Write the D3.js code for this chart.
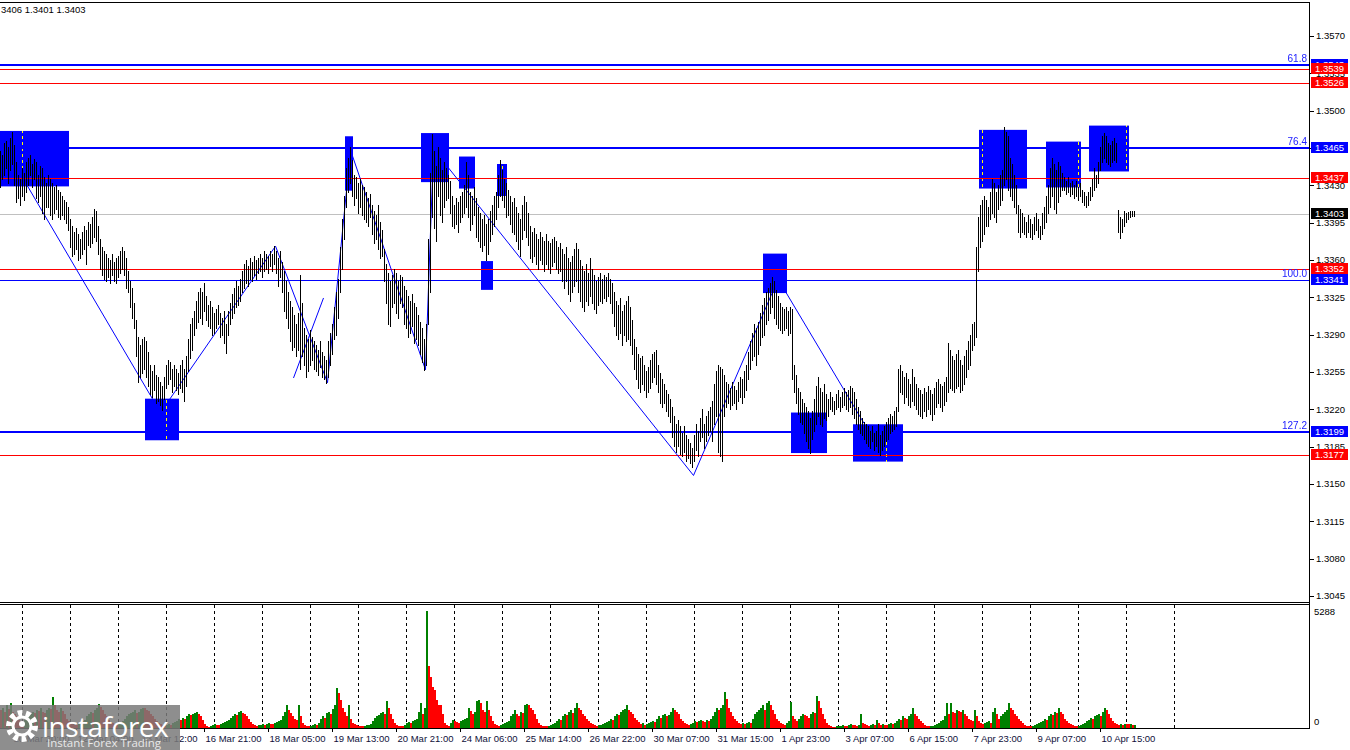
<!DOCTYPE html>
<html><head><meta charset="utf-8">
<script src="https://cdn.jsdelivr.net/npm/d3@7"></script>
<style>html,body{margin:0;padding:0;background:#fff;overflow:hidden}</style>
</head><body>
<svg id="c" width="1350" height="750"></svg>
<script>
// ---------- DATA (H1 bars, prices in pips above 1.3000) ----------
const highPips = [
462,458,470,472,466,474,480,468,452,440,436,446,442,452,456,458,450,455,452,440,448,446,438,432,
440,436,432,428,430,426,424,420,416,414,410,398,392,386,390,384,380,386,392,388,396,394,400,408,
406,392,380,372,368,366,362,360,366,358,362,364,368,372,368,362,350,340,334,320,304,288,280,286,
288,284,274,262,256,262,252,250,246,242,250,262,266,264,258,262,258,254,262,266,258,270,286,300,
306,312,322,330,334,330,338,326,318,322,316,310,314,318,310,306,312,300,312,320,328,334,340,336,
342,350,356,360,354,362,358,364,360,362,366,362,368,366,364,368,366,373,368,362,368,358,350,340,
330,322,316,308,300,310,346,320,296,290,286,294,288,284,280,276,284,274,270,266,284,292,300,316,
330,342,372,398,420,446,456,466,454,440,438,432,436,430,428,424,418,422,412,406,402,412,396,388,
370,356,348,340,346,352,348,340,346,344,336,332,326,322,328,320,316,308,302,296,286,300,380,442,
478,462,448,466,456,444,452,446,440,434,420,412,418,414,420,424,430,452,440,424,420,428,418,410,
404,398,402,394,398,406,412,420,424,440,454,444,436,432,426,420,414,418,410,404,398,412,420,414,
404,392,386,390,384,380,386,382,378,384,378,376,380,382,378,372,376,370,366,372,362,358,364,370,
376,370,360,354,350,356,348,362,352,346,340,344,348,342,346,344,348,342,338,330,322,318,324,312,
318,322,326,316,304,286,278,272,268,270,262,256,260,266,272,274,276,262,254,248,244,238,234,230,
222,214,206,210,204,198,204,196,192,188,184,196,206,200,212,220,206,214,218,222,228,244,256,262,
260,258,252,246,244,240,246,242,238,246,250,248,256,262,274,284,292,300,296,302,310,318,324,330,
334,338,344,340,332,326,320,316,314,316,312,316,314,262,252,240,236,230,226,222,218,212,218,230,
242,250,240,236,244,234,230,236,232,228,234,238,232,236,240,236,238,242,240,236,230,222,218,212,
208,206,204,200,204,198,200,206,196,200,204,208,212,216,214,218,222,258,262,256,250,254,248,244,
258,250,244,240,238,234,240,236,242,238,234,240,246,248,244,242,246,250,282,276,270,266,272,276,
266,262,270,276,284,290,300,302,372,400,412,416,420,416,410,424,436,432,424,430,440,444,485,480,
476,456,450,440,430,412,408,404,400,396,402,398,394,400,404,398,392,404,410,420,430,446,456,450,
444,452,448,442,438,434,438,432,434,430,434,428,432,426,424,420,424,428,436,446,440,452,466,476,
479,476,470,468,472,474,470,407,400,398,406,404,405,406,406,406];
const lowPips = [
428,436,440,446,432,444,450,430,414,418,412,420,416,424,430,440,428,436,418,414,420,404,398,410,
410,402,398,404,408,400,398,402,398,395,388,372,364,366,370,360,362,366,370,356,374,372,376,382,
378,366,352,346,342,340,344,338,346,340,338,344,348,352,346,334,330,316,306,296,270,246,250,254,
258,250,242,234,232,238,226,228,224,219,230,240,244,248,236,242,238,234,240,236,228,242,256,268,
276,290,296,302,306,300,312,304,298,296,290,292,296,300,288,290,282,273,290,300,306,310,316,318,
322,330,334,338,336,342,340,346,342,348,350,344,350,352,348,354,350,356,348,336,344,330,312,306,
296,284,276,278,270,276,258,270,262,250,256,262,266,258,256,252,260,250,248,245,250,262,272,286,
290,306,330,352,380,410,424,432,420,412,418,404,410,402,398,396,392,400,384,376,380,370,362,364,
340,320,300,298,316,320,310,306,320,316,300,296,288,292,298,282,286,280,272,264,257,262,300,330,
400,390,378,420,402,396,410,416,418,404,392,390,394,386,396,400,404,410,400,388,394,402,382,378,
372,368,374,360,366,378,384,392,398,410,420,416,410,400,402,394,386,384,378,370,364,380,388,382,
374,362,358,364,356,352,360,356,350,356,352,348,354,358,352,348,350,340,334,340,328,322,330,336,
340,330,322,316,312,322,318,326,320,314,310,318,322,320,324,322,326,320,310,298,290,286,292,280,
290,284,286,280,272,258,248,240,236,244,238,232,236,240,246,250,244,236,226,222,226,218,214,208,
194,186,180,186,178,176,180,172,174,170,166,172,182,176,190,194,184,190,196,200,190,206,214,180,
176,172,214,222,226,220,224,226,220,228,232,226,232,238,248,258,266,270,262,272,280,288,290,300,
304,310,316,306,300,296,294,292,294,296,290,292,248,236,226,216,208,206,198,190,184,179,192,200,
206,214,206,204,212,210,214,220,218,216,220,222,218,222,224,220,218,222,216,212,206,202,198,196,
192,188,186,184,190,182,186,180,177,182,186,190,192,198,200,202,204,218,236,234,226,232,224,222,
228,224,220,216,214,212,218,214,220,216,210,216,222,226,222,218,224,228,236,240,238,236,240,242,
236,238,244,250,258,262,276,280,288,350,372,378,384,392,392,398,404,400,396,408,412,416,430,436,
426,420,416,410,404,386,382,386,384,382,386,382,380,384,388,382,380,384,390,396,404,410,420,408,
404,414,420,426,426,422,424,420,422,418,420,416,420,414,412,410,412,416,420,426,428,432,444,452,
456,452,450,448,452,454,452,386,381,386,392,396,398,400,401,401];
const volumes = [
800,900,700,1000,850,1100,700,600,500,350,300,250,350,400,500,600,700,650,800,750,900,700,650,800,
900,850,1400,1000,800,700,900,750,600,400,300,200,150,120,100,150,200,300,350,500,600,700,650,800,
900,1050,950,800,600,500,350,250,200,150,120,150,200,300,400,500,600,650,700,800,650,700,850,900,
900,800,750,600,500,400,300,200,150,100,80,100,150,120,200,250,300,400,350,450,400,500,600,550,
600,650,700,600,500,350,150,50,40,60,100,150,120,100,150,200,250,300,350,450,500,600,550,700,
750,650,600,500,400,250,150,100,80,100,120,150,100,150,200,180,150,200,250,300,350,500,700,1000,
800,650,500,400,350,1000,500,200,100,80,50,80,100,150,120,200,400,500,450,650,700,600,850,1000,
1800,1560,1250,900,700,500,1000,400,200,150,100,80,60,50,80,100,120,150,300,450,500,550,650,700,
600,1200,900,600,400,200,100,80,60,50,100,200,250,200,300,350,400,700,1100,600,900,5288,2800,2300,
1850,1700,1250,1030,1000,600,200,100,50,200,350,300,250,200,300,350,400,450,900,750,600,700,1200,1270,
1100,800,700,1200,800,500,300,150,100,80,100,150,200,250,300,500,600,800,600,500,700,650,1000,1050,
1000,900,800,600,400,200,120,80,60,50,80,100,150,200,300,400,350,500,600,550,700,800,650,900,
1100,900,800,600,500,400,300,200,150,100,80,100,120,150,200,250,300,400,350,500,600,550,700,800,
850,1000,800,700,600,450,350,250,150,200,100,150,200,250,300,250,400,500,450,550,600,500,550,700,
900,800,700,600,400,300,200,150,100,150,200,300,250,300,350,300,250,350,300,400,500,700,900,800,
900,1000,1600,1300,900,700,500,400,300,200,150,200,150,200,250,200,400,600,700,800,900,1000,800,1100,
1200,1000,800,600,400,300,200,150,100,200,300,1150,500,400,300,400,500,600,550,500,450,600,700,650,
1450,1200,900,600,400,200,100,50,40,30,50,60,80,100,80,60,100,150,120,100,80,100,600,200,
150,100,80,100,150,120,350,200,100,150,120,100,150,200,150,200,300,400,350,500,450,400,500,600,
900,600,500,400,300,200,100,80,50,60,80,100,150,200,300,350,500,1100,600,1100,700,650,800,750,
700,800,600,500,400,350,300,800,500,300,200,150,200,250,300,200,700,900,600,400,500,600,700,800,
1100,900,800,600,500,400,300,200,100,80,60,50,80,100,150,200,250,300,400,350,500,600,550,700,
650,900,700,600,400,300,200,150,100,80,60,80,100,150,200,300,350,450,400,500,550,600,500,700,
900,800,600,450,300,200,150,100,150,120,180,150,140,160,100,120];
const volumeMax = 5288;

const dateLabels = ["10 Mar 20:00","12 Mar 04:00","13 Mar 12:00","16 Mar 21:00","18 Mar 05:00","19 Mar 13:00",
  "20 Mar 21:00","24 Mar 06:00","25 Mar 14:00","26 Mar 22:00","30 Mar 07:00","31 Mar 15:00","1 Apr 23:00",
  "3 Apr 07:00","6 Apr 15:00","7 Apr 23:00","9 Apr 07:00","10 Apr 15:00"];
const dateLabelBars = [6,38,70,102,134,166,198,230,262,294,326,358,390,422,454,486,518,550];
const gridBars = [11,35,59,83,107,131,155,179,203,227,251,275,299,323,347,371,395,419,443,467,491,515,539,563,587];
const priceTicks = [1.3045,1.3080,1.3115,1.3150,1.3185,1.3220,1.3255,1.3290,1.3325,1.3360,1.3395,1.3430,1.3465,1.3500,1.3535,1.3570];

const fiboPrices = [1.3543, 1.3465, 1.3341, 1.3199];
const fiboNames  = ["61.8", "76.4", "100.0", "127.2"];
const redPrices  = [1.3539, 1.3526, 1.3437, 1.3352, 1.3177];
const bidPrice = 1.3403;

const zoneStart = [-5, 72.5, 172.5, 210.5, 229.5, 240.5, 248.5, 381.5, 395.5, 426.5, 489.5, 523, 544.5];
const zoneEnd   = [34.5, 89.5, 176.5, 224.5, 237.5, 246.5, 253.5, 393.5, 413.5, 451.5, 513.5, 540.5, 564.5];
const zoneHigh  = [1.3481,1.3230,1.3476,1.3479,1.3457,1.3359,1.3450,1.3366,1.3217,1.3206,1.3482,1.3471,1.3486];
const zoneLow   = [1.3429,1.3191,1.3425,1.3433,1.3427,1.3332,1.3420,1.3329,1.3179,1.3171,1.3427,1.3428,1.3443];

const zigzagBars   = [-3, 80, 137.5, 163.5, 175, 212.5, 216.5, 346.5, 388.8, 431.7];
const zigzagPrices = [1.3482,1.3217,1.3373,1.3245,1.3463,1.3257,1.3464,1.3158,1.3342,1.3207];
const trendBars   = [146.5, 161.5];
const trendPrices = [1.32494, 1.33244];

const headerText = "3406 1.3401 1.3403";

// ---------- DRAWING ----------
const svg = d3.select('#c');
const FONT = "'Liberation Sans', Arial, sans-serif";
const RIGHT = 1309.5;
const x = d3.scaleLinear().domain([0, 567]).range([0.5, 1134.5]);
const y = d3.scaleLinear().domain([1.3045, 1.3570]).range([596, 36]);
const yv = d3.scaleLinear().domain([0, volumeMax]).range([727.5, 611]);
const price = p => 1.3 + p / 10000;
const crisp = v => Math.round(v) + 0.5;

svg.append('rect').attr('width', 1350).attr('height', 750).attr('fill', '#fff');

const defs = svg.append('defs');
defs.append('clipPath').attr('id', 'mainClip').append('rect')
  .attr('x', 0).attr('y', 3).attr('width', 1309).attr('height', 599);

const main = svg.append('g').attr('clip-path', 'url(#mainClip)');

// zones
main.append('g').selectAll('rect').data(zoneStart).join('rect')
  .attr('x', (d, i) => x(d) - 0.5)
  .attr('width', (d, i) => x(zoneEnd[i]) - x(d))
  .attr('y', (d, i) => y(zoneHigh[i]))
  .attr('height', (d, i) => y(zoneLow[i]) - y(zoneHigh[i]))
  .attr('fill', '#0000ff');

// vertical grid (XOR-like look over blue zones)
main.append('g').style('mix-blend-mode', 'difference').selectAll('line').data(gridBars).join('line')
  .attr('x1', d => x(d)).attr('x2', d => x(d)).attr('y1', 4).attr('y2', 602)
  .attr('stroke', '#fff').attr('stroke-dasharray', '3,3').attr('shape-rendering', 'crispEdges');

// horizontal levels
main.append('line').attr('x1', 0).attr('x2', RIGHT).attr('y1', crisp(y(bidPrice))).attr('y2', crisp(y(bidPrice)))
  .attr('stroke', '#c0c0c0').attr('shape-rendering', 'crispEdges');
main.append('g').selectAll('line').data(redPrices).join('line')
  .attr('x1', 0).attr('x2', RIGHT).attr('y1', d => crisp(y(d))).attr('y2', d => crisp(y(d)))
  .attr('stroke', '#ff0000').attr('shape-rendering', 'crispEdges');
main.append('g').selectAll('line').data(fiboPrices).join('line')
  .attr('x1', 0).attr('x2', RIGHT)
  .attr('y1', (d, i) => i === 2 ? crisp(y(d)) : Math.round(y(d)))
  .attr('y2', (d, i) => i === 2 ? crisp(y(d)) : Math.round(y(d)))
  .attr('stroke', '#0000ff').attr('stroke-width', (d, i) => i === 2 ? 1 : 2.5)
  .attr('shape-rendering', 'crispEdges');
main.append('g').selectAll('text').data(fiboPrices).join('text')
  .attr('x', 1307).attr('y', d => y(d) - 3).attr('text-anchor', 'end')
  .attr('font-family', FONT).attr('font-size', 10).attr('fill', '#2020ff')
  .text((d, i) => fiboNames[i]);

// zigzag & trend
const zz = zigzagBars.map((b, i) => [x(b), y(zigzagPrices[i])]);
main.append('path').attr('d', d3.line()(zz)).attr('fill', 'none').attr('stroke', '#0000ff').attr('stroke-width', 1);
main.append('path').attr('d', d3.line()(trendBars.map((b, i) => [x(b), y(trendPrices[i])])))
  .attr('fill', 'none').attr('stroke', '#0000ff').attr('stroke-width', 1);

// bars
main.append('g').selectAll('line').data(highPips).join('line')
  .attr('x1', (d, i) => x(i)).attr('x2', (d, i) => x(i))
  .attr('y1', d => Math.round(y(price(d))))
  .attr('y2', (d, i) => Math.round(y(price(lowPips[i]))) + 1)
  .attr('stroke', '#000').attr('stroke-width', 1).attr('shape-rendering', 'crispEdges');

// frames
const frame = svg.append('g').attr('stroke', '#000').attr('shape-rendering', 'crispEdges');
frame.append('line').attr('x1', 0).attr('x2', RIGHT).attr('y1', 2.5).attr('y2', 2.5);
frame.append('line').attr('x1', 0).attr('x2', RIGHT).attr('y1', 602.5).attr('y2', 602.5);
frame.append('line').attr('x1', 0).attr('x2', RIGHT).attr('y1', 604.5).attr('y2', 604.5);
frame.append('line').attr('x1', 0).attr('x2', RIGHT).attr('y1', 728.5).attr('y2', 728.5);
frame.append('line').attr('x1', RIGHT).attr('x2', RIGHT).attr('y1', 2.5).attr('y2', 728.5);

// price axis ticks
const ax = svg.append('g');
ax.selectAll('line').data(priceTicks).join('line')
  .attr('x1', RIGHT).attr('x2', RIGHT + 4).attr('y1', d => crisp(y(d))).attr('y2', d => crisp(y(d)))
  .attr('stroke', '#000').attr('shape-rendering', 'crispEdges');
ax.selectAll('text').data(priceTicks).join('text')
  .attr('x', 1316).attr('y', d => y(d)).attr('dy', '0.35em')
  .attr('font-family', FONT).attr('font-size', 9.5).attr('fill', '#000')
  .text(d => d.toFixed(4));

// price label boxes
const tags = [];
tags.push({p: fiboPrices[0], c: '#0000ff'});
tags.push({p: redPrices[0], c: '#ff0000'});
tags.push({p: redPrices[1], c: '#ff0000'});
tags.push({p: fiboPrices[1], c: '#0000ff'});
tags.push({p: redPrices[2], c: '#ff0000'});
tags.push({p: bidPrice, c: '#000000'});
tags.push({p: redPrices[3], c: '#ff0000'});
tags.push({p: fiboPrices[2], c: '#0000ff'});
tags.push({p: fiboPrices[3], c: '#0000ff'});
tags.push({p: redPrices[4], c: '#ff0000'});
const tg = svg.append('g').selectAll('g').data(tags).join('g');
tg.append('rect').attr('x', 1311).attr('width', 37).attr('y', d => Math.round(y(d.p)) - 6).attr('height', 11)
  .attr('fill', d => d.c);
tg.append('text').attr('x', 1315).attr('y', d => Math.round(y(d.p))).attr('dy', '0.35em')
  .attr('font-family', FONT).attr('font-size', 9.5).attr('fill', '#fff').text(d => d.p.toFixed(4));

// volume pane
const vg = svg.append('g');
vg.selectAll('line').data(gridBars).join('line')
  .attr('x1', d => x(d)).attr('x2', d => x(d)).attr('y1', 605).attr('y2', 728)
  .attr('stroke', '#000').attr('stroke-dasharray', '3,3').attr('shape-rendering', 'crispEdges');
vg.append('g').selectAll('rect').data(volumes).join('rect')
  .attr('x', (d, i) => x(i) - 0.5).attr('width', 2)
  .attr('y', d => yv(d)).attr('height', d => yv(0) - yv(d))
  .attr('fill', (d, i) => (i > 0 && d > volumes[i - 1]) ? '#008000' : '#ff0000')
  .attr('shape-rendering', 'crispEdges');
vg.append('text').attr('x', 1314).attr('y', yv(volumeMax) + 1).attr('dy', '0.35em')
  .attr('font-family', FONT).attr('font-size', 9.5).attr('fill', '#000').text(String(volumeMax));
vg.append('text').attr('x', 1314).attr('y', 722).attr('dy', '0.35em')
  .attr('font-family', FONT).attr('font-size', 9.5).attr('fill', '#000').text('0');

// date labels
const dg = svg.append('g');
dg.selectAll('line').data(dateLabelBars).join('line')
  .attr('x1', d => x(d)).attr('x2', d => x(d)).attr('y1', 729).attr('y2', 732)
  .attr('stroke', '#000').attr('shape-rendering', 'crispEdges');
dg.selectAll('text').data(dateLabels).join('text')
  .attr('x', (d, i) => x(dateLabelBars[i]) + 1).attr('y', 742)
  .attr('font-family', FONT).attr('font-size', 9.5).attr('fill', '#10103a').text(d => d);

// header
svg.append('text').attr('x', 1).attr('y', 13).attr('font-family', FONT).attr('font-size', 9.5)
  .attr('fill', '#000').text(headerText);

// logo
const lg = svg.append('g');
lg.append('rect').attr('x', 0).attr('y', 705).attr('width', 180).attr('height', 45)
  .attr('fill', '#7a7a7a').attr('opacity', 0.85);
lg.append('circle').attr('cx', 22).attr('cy', 726).attr('r', 13).attr('fill', 'none')
  .attr('stroke', '#fff').attr('stroke-width', 6).attr('stroke-dasharray', '4.5,3.6');
lg.append('circle').attr('cx', 22).attr('cy', 726).attr('r', 9).attr('fill', 'none')
  .attr('stroke', '#fff').attr('stroke-width', 3);
lg.append('circle').attr('cx', 22).attr('cy', 724).attr('r', 3).attr('fill', '#fff');
lg.append('text').attr('x', 42).attr('y', 737).attr('font-family', "'Open Sans', sans-serif")
  .attr('font-size', 28).attr('fill', '#fff').attr('letter-spacing', -0.5).text('instaforex');
lg.append('text').attr('x', 47).attr('y', 747).attr('font-family', "'Open Sans', sans-serif")
  .attr('font-size', 11.5).attr('fill', '#e8e8e8').text('Instant Forex Trading');
</script>
</body></html>
